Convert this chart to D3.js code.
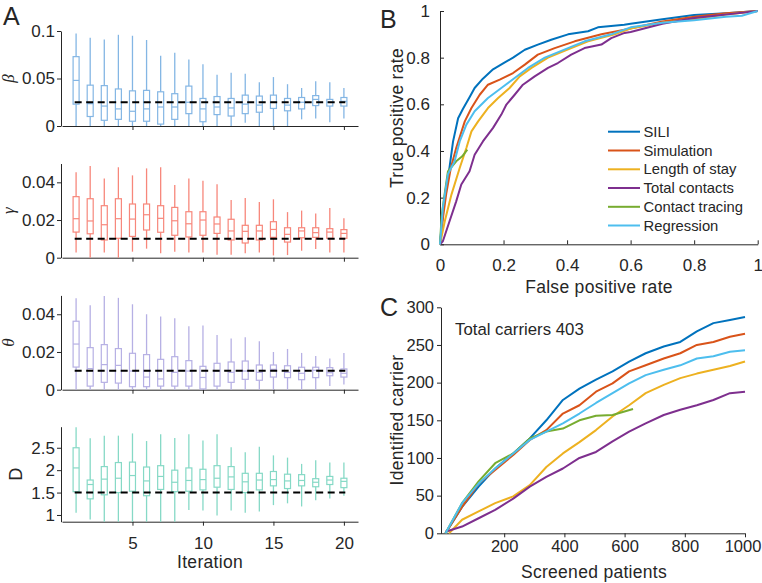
<!DOCTYPE html>
<html><head><meta charset="utf-8">
<script src="https://cdn.jsdelivr.net/npm/d3@7"></script>
<style>
body{margin:0;background:#fff}
svg text{font-family:"Liberation Sans",Arial,Helvetica,sans-serif;fill:#262626}
</style>
</head><body><svg id="c" width="762" height="583"></svg>
<script>
// ---------- Panel A data: per iteration [min, q1, median, q3, max] ----------
const iterations = d3.range(1, 21);
const betaStats = [
 [0,0.023,0.048,0.073,0.0975],[0,0.010,0.0235,0.043,0.093],[0,0.006,0.021,0.0425,0.091],[0,0.007,0.018,0.039,0.096],
 [0,0.005,0.0155,0.037,0.095],[0,0.005,0.018,0.0375,0.0905],[0,0.002,0.020,0.036,0.074],[0,0.007,0.020,0.034,0.077],
 [0,0.013,0.025,0.042,0.070],[0,0.0045,0.018,0.029,0.065],[0,0.012,0.020,0.031,0.054],[0,0.0105,0.019,0.029,0.056],
 [0.0035,0.013,0.023,0.0325,0.055],[0,0.0145,0.022,0.0315,0.046],[0,0.0185,0.025,0.0325,0.0515],[0,0.016,0.022,0.029,0.044],
 [0.007,0.018,0.025,0.030,0.040],[0.008,0.0215,0.028,0.032,0.047],[0.004,0.021,0.025,0.028,0.046],[0.008,0.021,0.026,0.030,0.040]
];
const gammaStats = [
 [0.0028,0.0136,0.0207,0.0324,0.0453],[0,0.0127,0.0195,0.0313,0.0487],[0.0028,0.0094,0.0175,0.0276,0.042],[0,0.0103,0.0207,0.0313,0.048],
 [0.0032,0.0113,0.0205,0.0285,0.0437],[0.0048,0.0147,0.0228,0.0285,0.0474],[0.0023,0.0135,0.0209,0.0276,0.048],[0.0032,0.0119,0.0196,0.0267,0.0386],
 [0.0028,0.011,0.018,0.0244,0.042],[0.0028,0.0119,0.020,0.0244,0.0409],[0.0016,0.0129,0.0179,0.0216,0.039],[0.0016,0.0094,0.0142,0.0204,0.0306],
 [0.0023,0.0078,0.014,0.0172,0.0317],[0.0028,0.0094,0.0142,0.0172,0.0296],[0.0012,0.0108,0.015,0.0191,0.031],[0.0014,0.0083,0.0124,0.0159,0.0242],
 [0.0037,0.0106,0.0142,0.0159,0.025],[0.0046,0.0108,0.0133,0.0159,0.0235],[0.0028,0.0103,0.0136,0.0154,0.0264],[0.0028,0.0103,0.0129,0.0149,0.0209]
];
const thetaStats = [
 [0,0.012,0.0242,0.0363,0.0485],[0,0.0019,0.0112,0.0223,0.0448],[0,0.0039,0.0133,0.0239,0.0497],[0,0.0035,0.0129,0.0218,0.0487],
 [0,0.0016,0.0099,0.0193,0.0453],[0,0.0016,0.0067,0.0186,0.040],[0,0.0019,0.0057,0.0161,0.0388],[0,0.0019,0.0092,0.0175,0.0379],
 [0,0.0019,0.0099,0.0154,0.0336],[0,0.0004,0.0065,0.0124,0.034],[0,0.0019,0.0099,0.014,0.029],[0,0.0039,0.0092,0.0147,0.0271],
 [0,0.0055,0.0099,0.0152,0.0278],[0,0.005,0.0092,0.0131,0.0257],[0,0.0067,0.0108,0.0131,0.020],[0,0.0064,0.0092,0.0127,0.0216],
 [0,0.0053,0.0087,0.0119,0.0195],[0,0.0064,0.0103,0.0119,0.0179],[0.0019,0.0074,0.009,0.0117,0.0166],[0.0028,0.0067,0.0087,0.011,0.0195]
];
const dStats = [
 [1.05,1.52,2.05,2.50,2.96],[0.90,1.36,1.68,1.78,2.71],[0.80,1.45,1.80,2.08,2.77],[0.80,1.50,1.82,2.17,2.77],
 [0.80,1.53,1.88,2.18,2.82],[0.80,1.43,1.76,2.07,2.65],[0.80,1.57,1.86,2.10,2.80],[0.80,1.52,1.73,2.00,2.72],
 [1.11,1.53,1.77,2.05,2.80],[1.10,1.56,1.79,2.02,2.66],[0.99,1.62,1.82,2.10,2.80],[1.10,1.57,1.85,2.08,2.51],
 [1.05,1.50,1.74,1.93,2.40],[1.08,1.56,1.78,1.93,2.52],[1.22,1.65,1.79,1.97,2.33],[1.26,1.59,1.76,1.91,2.28],
 [1.19,1.65,1.77,1.90,2.14],[1.33,1.63,1.73,1.81,2.22],[1.37,1.68,1.78,1.86,2.17],[1.43,1.61,1.75,1.82,2.17]
];
const trueValues = [0.025, 0.01, 0.01, 1.5];
const iterTicks = [5, 10, 15, 20];
const betaTicks = [0, 0.05, 0.1];
const gammaTicks = [0, 0.02, 0.04];
const thetaTicks = [0, 0.02, 0.04];
const dTicks = [1, 1.5, 2, 2.5];

// ---------- Panel B data: ROC [fpr, tpr] ----------
const methods = ["SILI","Simulation","Length of stay","Total contacts","Contact tracing","Regression"];
const methodColors = ["#0072BD","#D95319","#EDB120","#7E2F8E","#77AC30","#4DBEEE"];
const rocSILI = [[0,0],[0.01,0.15],[0.02,0.25],[0.03,0.33],[0.041,0.44],[0.057,0.54],[0.072,0.58],[0.093,0.63],[0.109,0.67],[0.135,0.71],[0.167,0.75],[0.204,0.78],[0.23,0.80],[0.267,0.834],[0.308,0.856],[0.35,0.877],[0.403,0.9],[0.466,0.913],[0.497,0.93],[0.58,0.941],[0.6,0.945],[0.7,0.965],[0.8,0.983],[0.9,0.99],[1,1]];
const rocSimulation = [[0,0],[0.01,0.12],[0.02,0.22],[0.034,0.327],[0.051,0.413],[0.078,0.527],[0.099,0.584],[0.125,0.641],[0.151,0.684],[0.188,0.706],[0.23,0.734],[0.267,0.77],[0.308,0.813],[0.361,0.841],[0.424,0.87],[0.508,0.9],[0.581,0.92],[0.7,0.955],[0.8,0.975],[0.9,0.99],[1,1]];
const rocStay = [[0,0],[0.015,0.099],[0.036,0.213],[0.062,0.327],[0.083,0.413],[0.099,0.484],[0.12,0.527],[0.151,0.584],[0.183,0.627],[0.219,0.67],[0.251,0.72],[0.288,0.756],[0.34,0.8],[0.413,0.841],[0.466,0.87],[0.55,0.9],[0.6,0.925],[0.7,0.95],[0.8,0.965],[0.9,0.985],[1,1]];
const rocContacts = [[0,0],[0.009,0.013],[0.03,0.099],[0.051,0.184],[0.067,0.256],[0.093,0.313],[0.109,0.384],[0.135,0.441],[0.167,0.499],[0.193,0.556],[0.209,0.599],[0.235,0.641],[0.261,0.684],[0.298,0.72],[0.34,0.756],[0.371,0.777],[0.413,0.813],[0.455,0.841],[0.508,0.856],[0.539,0.884],[0.581,0.906],[0.6,0.91],[0.7,0.945],[0.8,0.97],[0.9,0.985],[1,1]];
const rocTracing = [[0,0],[0.005,0.12],[0.013,0.2],[0.025,0.313],[0.051,0.356],[0.07,0.377],[0.086,0.406]];
const rocRegression = [[0,0],[0.009,0.156],[0.025,0.3],[0.046,0.356],[0.062,0.441],[0.083,0.513],[0.109,0.57],[0.151,0.627],[0.193,0.67],[0.235,0.713],[0.277,0.756],[0.33,0.8],[0.403,0.841],[0.455,0.87],[0.539,0.9],[0.6,0.93],[0.7,0.95],[0.8,0.96],[0.9,0.975],[0.95,0.98],[1,1]];
const rateTicks = [0, 0.2, 0.4, 0.6, 0.8, 1];

// ---------- Panel C data: [screened patients, identified carriers] ----------
const capSILI = [[5,0],[60,35],[115,62],[170,86],[230,106],[285,126],[340,150],[395,177],[450,192],[505,204],[560,215],[615,228],[670,239],[730,248],[785,254],[840,268],[895,279],[950,283],[1000,287]];
const capSimulation = [[5,0],[60,35],[115,66],[170,84],[230,104],[285,124],[340,137],[395,159],[450,170],[505,188],[560,199],[615,215],[670,223],[730,232],[785,239],[840,250],[895,254],[950,261],[1000,265]];
const capStay = [[17,0],[60,18],[115,29],[170,40],[230,49],[285,64],[340,88],[395,106],[450,121],[505,137],[560,155],[615,170],[670,186],[730,197],[785,206],[840,212],[895,217],[950,222],[1000,228]];
const capContacts = [[5,2],[60,9],[115,20],[170,31],[230,46],[285,62],[340,75],[395,86],[450,100],[505,108],[560,122],[615,135],[670,146],[730,157],[785,164],[840,170],[895,177],[950,186],[1000,188]];
const capTracing = [[5,0],[60,40],[115,69],[170,93],[230,106],[285,126],[340,135],[395,139],[450,150],[505,156],[560,157],[628,165]];
const capRegression = [[5,0],[60,40],[115,66],[170,86],[230,106],[285,124],[340,135],[395,146],[450,159],[505,173],[560,186],[615,199],[670,210],[730,217],[785,223],[840,232],[895,235],[950,241],[1000,243]];
const screenTicks = [200, 400, 600, 800, 1000];
const carrierTicks = [0, 50, 100, 150, 200, 250, 300];
const totalCarriers = 403;

// ---------- drawing ----------
const ink = "#262626";
const svg = d3.select("#c");
svg.append("rect").attr("width",762).attr("height",583).attr("fill","#fff");

function styleAxis(g, fs){
  g.select(".domain").attr("stroke", ink).attr("stroke-width", 1);
  g.selectAll(".tick line").attr("stroke", ink).attr("stroke-width", 1);
  g.selectAll(".tick text").attr("fill", ink).style("font-size", fs + "px")
    .style("font-family", '"Liberation Sans",Arial,sans-serif');
}
function axisLabel(sel){
  return sel.style("font-size","17.5px").style("letter-spacing","0.3px");
}

// Panel A
const xA = d3.scaleLinear().domain([0, 21]).range([62, 358]);
const panelsA = [
  {stats: betaStats, dom:[0,0.1], rng:[126,31], ticks: betaTicks, color:"#84b6e4", label:"β", lx:14, greek:true},
  {stats: gammaStats, dom:[0,0.05], rng:[257.7,163.5], ticks: gammaTicks, color:"#f7877b", label:"γ", lx:14, greek:true},
  {stats: thetaStats, dom:[0,0.05], rng:[389.7,295.4], ticks: thetaTicks, color:"#b6b0e4", label:"θ", lx:14, greek:true},
  {stats: dStats, dom:[0.85,2.97], rng:[521.7,426.7], ticks: dTicks, color:"#86d9c6", label:"D", lx:21.5, greek:false}
];
panelsA.forEach((p, i) => {
  const y = d3.scaleLinear().domain(p.dom).range(p.rng).clamp(true);
  const g = svg.append("g");
  const xa = g.append("g").attr("transform", `translate(0,${p.rng[0]})`)
    .call(d3.axisBottom(xA).tickValues(iterTicks).tickSize(4).tickSizeOuter(0).tickPadding(11)
      .tickFormat(i === 3 ? (d => String(d)) : (() => "")));
  styleAxis(xa, 17);
  const ya = g.append("g").attr("transform", `translate(61,0)`)
    .call(d3.axisLeft(y).tickValues(p.ticks).tickSize(4).tickSizeOuter(0).tickPadding(2).tickFormat(d => String(d)));
  styleAxis(ya, 17);
  const bw = 6;
  const bx = g.selectAll(".bx").data(p.stats).join("g");
  bx.each(function(s, k){
    const gg = d3.select(this), cx = xA(iterations[k]);
    gg.append("line").attr("x1",cx).attr("x2",cx).attr("y1",y(s[0])).attr("y2",y(s[1]))
      .attr("stroke",p.color).attr("stroke-width",1.3);
    gg.append("line").attr("x1",cx).attr("x2",cx).attr("y1",y(s[3])).attr("y2",y(s[4]))
      .attr("stroke",p.color).attr("stroke-width",1.3);
    gg.append("rect").attr("x",cx-bw/2).attr("width",bw).attr("y",y(s[3])).attr("height",y(s[1])-y(s[3]))
      .attr("fill","none").attr("stroke",p.color).attr("stroke-width",1.2);
    gg.append("line").attr("x1",cx-bw/2).attr("x2",cx+bw/2).attr("y1",y(s[2])).attr("y2",y(s[2]))
      .attr("stroke",p.color).attr("stroke-width",1.2);
  });
  g.append("line").attr("x1", xA(0.9)).attr("x2", xA(20.1)).attr("y1", y(trueValues[i])).attr("y2", y(trueValues[i]))
    .attr("stroke","#000").attr("stroke-width",2).attr("stroke-dasharray","7,4.5");
  const cy = (p.rng[0] + p.rng[1]) / 2;
  const t = g.append("text").attr("transform", `translate(${p.lx},${cy}) rotate(-90)`).attr("text-anchor","middle").text(p.label);
  if (p.greek) t.style("font-family",'"Liberation Serif","DejaVu Serif",serif').style("font-style","italic").style("font-size","17px");
  else t.style("font-size","18px");
});
axisLabel(svg.append("text").attr("x", 210).attr("y", 568).attr("text-anchor","middle")).text("Iteration");
svg.append("text").attr("x", 3).attr("y", 25).style("font-size","25px").text("A");

// Panel B
const xB = d3.scaleLinear().domain([0,1]).range([440, 757.7]);
const yB = d3.scaleLinear().domain([0,1]).range([244.3, 11]);
const gB = svg.append("g");
const xbA = gB.append("g").attr("transform","translate(0,244.3)")
  .call(d3.axisBottom(xB).tickValues(rateTicks).tickSize(-4).tickSizeOuter(0).tickPadding(15).tickFormat(d => String(d)));
styleAxis(xbA, 17);
const ybA = gB.append("g").attr("transform","translate(440,0)")
  .call(d3.axisLeft(yB).tickValues(rateTicks).tickSize(-4).tickSizeOuter(0).tickPadding(10).tickFormat(d => String(d)));
styleAxis(ybA, 17);
const rocSeries = [rocSILI, rocSimulation, rocStay, rocContacts, rocTracing, rocRegression];
const lineB = d3.line().x(d => xB(d[0])).y(d => yB(d[1]));
rocSeries.forEach((s, i) => {
  gB.append("path").attr("d", lineB(s)).attr("fill","none").attr("stroke", methodColors[i])
    .attr("stroke-width", 2).attr("stroke-linejoin","round");
});
const legY = [131.7, 150.5, 169.3, 188, 206.8, 225.5];
methods.forEach((m, i) => {
  gB.append("line").attr("x1",608).attr("x2",640).attr("y1",legY[i]).attr("y2",legY[i])
    .attr("stroke",methodColors[i]).attr("stroke-width",2);
  gB.append("text").attr("x",643.5).attr("y",legY[i]).attr("dy","0.35em").style("font-size","14.8px").text(m);
});
axisLabel(svg.append("text").attr("x", 599).attr("y", 293).attr("text-anchor","middle")).text("False positive rate");
axisLabel(svg.append("text").attr("transform","translate(403,118) rotate(-90)").attr("text-anchor","middle")).text("True positive rate");
svg.append("text").attr("x", 380).attr("y", 28).style("font-size","25px").text("B");

// Panel C
const xC = d3.scaleLinear().domain([0,1000]).range([444, 745]);
const yC = d3.scaleLinear().domain([0,300]).range([533.3, 307.3]);
const gC = svg.append("g");
const xcA = gC.append("g").attr("transform","translate(0,533.3)")
  .call(d3.axisBottom(xC).tickValues(screenTicks).tickSize(4).tickSizeOuter(0).tickPadding(3).tickFormat(d => String(d)));
styleAxis(xcA, 16.5);
xcA.select(".domain").attr("d", `M441,0.5H745`);
xcA.selectAll(".tick text").filter(d => d === 1000).attr("dx", -2.5);
const ycA = gC.append("g").attr("transform","translate(441,0)")
  .call(d3.axisLeft(yC).tickValues(carrierTicks).tickSize(4).tickSizeOuter(0).tickPadding(3).tickFormat(d => String(d)));
styleAxis(ycA, 16.5);
const capSeries = [capSILI, capSimulation, capStay, capContacts, capTracing, capRegression];
const lineC = d3.line().x(d => xC(d[0])).y(d => yC(d[1]));
capSeries.forEach((s, i) => {
  gC.append("path").attr("d", lineC(s)).attr("fill","none").attr("stroke", methodColors[i])
    .attr("stroke-width", 2).attr("stroke-linejoin","round");
});
gC.append("text").attr("x", 455).attr("y", 335).style("font-size","16.8px").text("Total carriers " + totalCarriers);
axisLabel(svg.append("text").attr("x", 594).attr("y", 578).attr("text-anchor","middle")).text("Screened patients");
axisLabel(svg.append("text").attr("transform","translate(403,420) rotate(-90)").attr("text-anchor","middle")).text("Identified carrier");
svg.append("text").attr("x", 380).attr("y", 316).style("font-size","25px").text("C");
</script></body></html>
